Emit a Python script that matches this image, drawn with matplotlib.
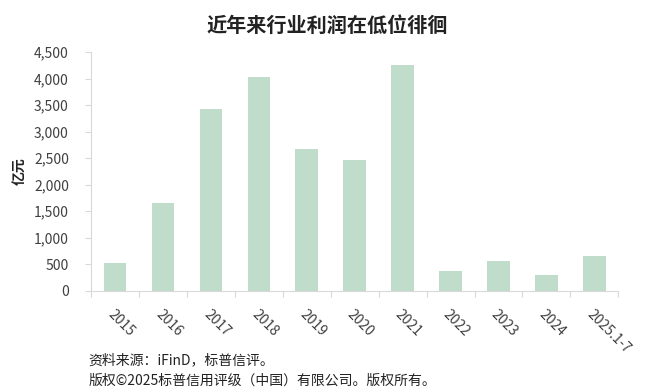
import numpy as np
import matplotlib.pyplot as plt
from matplotlib.ticker import FuncFormatter, FixedLocator

plt.rcParams['font.family'] = ['Noto Sans CJK SC', 'DejaVu Sans']

years = ['2015', '2016', '2017', '2018', '2019', '2020', '2021',
         '2022', '2023', '2024', '2025.1-7']
profit = [530, 1660, 3420, 4040, 2680, 2470, 4250, 375, 570, 305, 650]

fig = plt.figure(figsize=(6.55, 3.92), dpi=100)
ax = fig.add_axes([0.139, 0.258, 0.805, 0.609])

x = np.arange(len(years))
ax.bar(x, profit, width=0.47, color='#c0dccb')

ax.set_xlim(-0.5, len(years) - 0.5)
ax.set_ylim(0, 4500)
ax.set_yticks(np.arange(0, 4501, 500))
ax.yaxis.set_major_formatter(FuncFormatter(lambda v, p: f'{int(v):,}'))

# ticks at category boundaries, labels at centres
ax.xaxis.set_major_locator(FixedLocator(np.arange(-0.5, len(years), 1)))
ax.xaxis.set_minor_locator(FixedLocator(x))
ax.set_xticklabels([])
ax.set_xticklabels(years, minor=True, rotation=-45, ha='left',
                   rotation_mode='anchor', fontsize=10, color='#404040')
ax.tick_params(axis='x', which='minor', length=0, pad=12)
ax.tick_params(axis='x', which='major', length=4, color='#d9d9d9')
ax.tick_params(axis='y', length=4, color='#d9d9d9', labelsize=10,
               labelcolor='#404040', pad=12)

for s in ['top', 'right']:
    ax.spines[s].set_visible(False)
for s in ['left', 'bottom']:
    ax.spines[s].set_color('#d9d9d9')

ax.set_ylabel('亿元', fontsize=10, fontweight='bold', color='#222222',
              labelpad=5)

fig.text(0.5, 0.934, '近年来行业利润在低位徘徊', ha='center', va='center',
         fontsize=14.5, fontweight='semibold', color='#222222')
fig.text(0.135, 0.08, '资料来源：iFinD，标普信评。', ha='left', va='center',
         fontsize=10, color='#222222')
fig.text(0.135, 0.028, '版权©2025标普信用评级（中国）有限公司。版权所有。',
         ha='left', va='center', fontsize=10, color='#222222')

fig.savefig('out.png', dpi=100)
